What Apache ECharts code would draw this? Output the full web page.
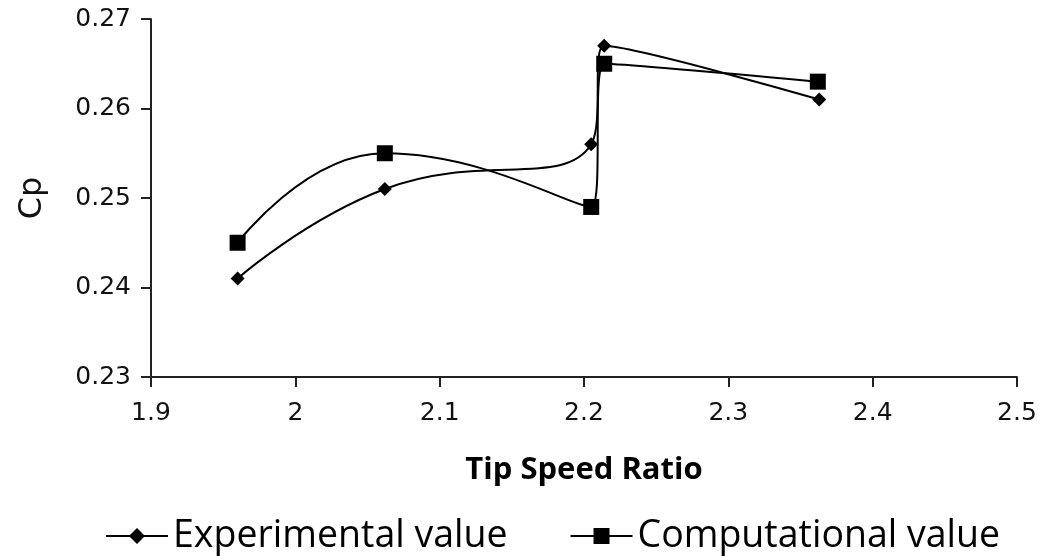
<!DOCTYPE html>
<html>
<head>
<meta charset="utf-8">
<script src="https://cdn.jsdelivr.net/npm/echarts@6/dist/echarts.min.js"></script>
<style>html,body{margin:0;padding:0;background:#fff}#c{width:1040px;height:557px}</style>
</head>
<body>
<div id="c"></div>
<script>
var expX = [1.960, 2.062, 2.205, 2.214, 2.363];
var expY = [0.241, 0.251, 0.256, 0.267, 0.261];
var compX = [1.960, 2.062, 2.205, 2.214, 2.362];
var compY = [0.245, 0.255, 0.249, 0.265, 0.263];
var seriesNames = ['Experimental value', 'Computational value'];
var xTitle = 'Tip Speed Ratio';
var yTitle = 'Cp';

function pairs(xs, ys){ return xs.map(function(x,i){ return [x, ys[i]]; }); }

var chart = echarts.init(document.getElementById('c'));
chart.setOption({
  animation: false,
  backgroundColor: '#fff',
  grid: { left: 151, right: 23, top: 19, bottom: 180, containLabel: false },
  legend: {
    top: 512, left: 100, itemWidth: 62, itemHeight: 20, itemGap: 62,
    textStyle: { fontFamily: 'Open Sans, sans-serif', fontSize: 37.5, color: '#000' },
    data: seriesNames
  },
  xAxis: {
    type: 'value', min: 1.9, max: 2.5, interval: 0.1,
    name: xTitle, nameLocation: 'middle', nameGap: 78,
    nameTextStyle: { fontFamily: 'Open Sans, sans-serif', fontWeight: 'bold', fontSize: 31, color: '#000' },
    axisLine: { lineStyle: { color: '#222', width: 2 } },
    axisTick: { length: 10, lineStyle: { color: '#222', width: 2 } },
    axisLabel: { fontFamily: 'DejaVu Sans, Verdana, sans-serif', fontSize: 25, color: '#111', margin: 24 },
    splitLine: { show: false }
  },
  yAxis: {
    type: 'value', min: 0.23, max: 0.27, interval: 0.01,
    name: yTitle, nameLocation: 'middle', nameGap: 102, nameRotate: 90,
    nameTextStyle: { fontFamily: 'DejaVu Sans, Verdana, sans-serif', fontSize: 32, color: '#111' },
    axisLine: { show: true, lineStyle: { color: '#222', width: 2 } },
    axisTick: { show: true, length: 10, lineStyle: { color: '#222', width: 2 } },
    axisLabel: { fontFamily: 'DejaVu Sans, Verdana, sans-serif', fontSize: 25, color: '#111', margin: 20,
      formatter: function(v){ return v.toFixed(2); } },
    splitLine: { show: false }
  },
  series: [
    {
      name: seriesNames[0], type: 'line', smooth: 0.5,
      data: pairs(expX, expY),
      symbol: 'diamond', symbolSize: 14,
      itemStyle: { color: '#000' },
      lineStyle: { color: '#000', width: 2 }
    },
    {
      name: seriesNames[1], type: 'line', smooth: 0.5,
      data: pairs(compX, compY),
      symbol: 'rect', symbolSize: 16,
      itemStyle: { color: '#000' },
      lineStyle: { color: '#000', width: 2 }
    }
  ]
});
</script>
</body>
</html>
